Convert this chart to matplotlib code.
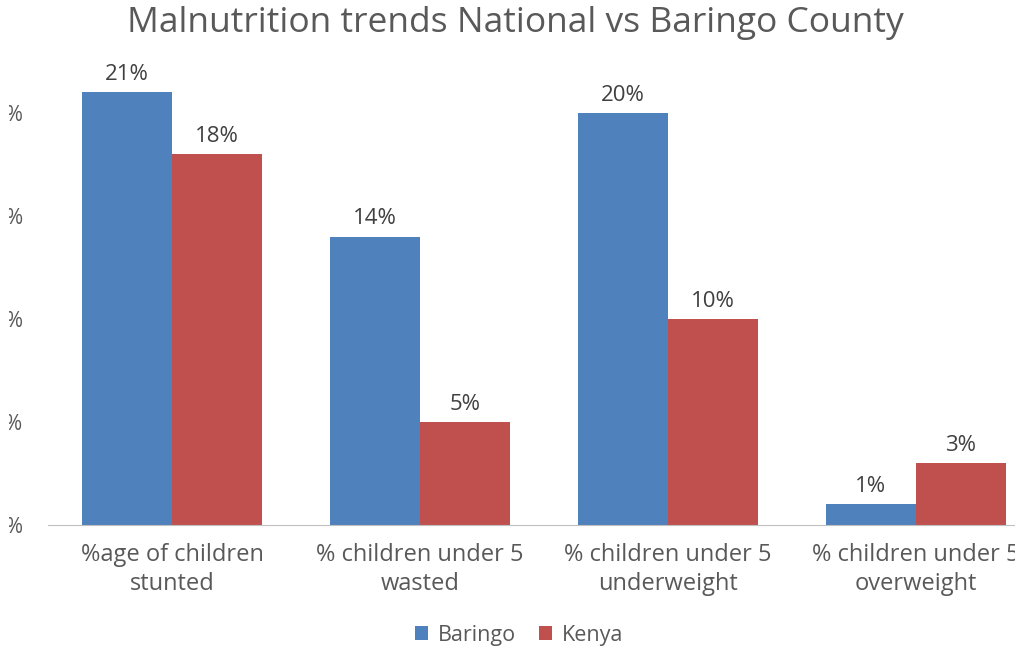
import numpy as np
import matplotlib.pyplot as plt
from matplotlib.ticker import FuncFormatter
from matplotlib.transforms import Bbox

plt.rcParams['font.family'] = ['Open Sans', 'DejaVu Sans']

categories = ['%age of children\nstunted', '% children under 5\nwasted',
              '% children under 5\nunderweight', '% children under 5\noverweight']
baringo = [21, 14, 20, 1]
kenya = [18, 5, 10, 3]

c_baringo = '#4F81BD'
c_kenya = '#C0504D'
txt = '#595959'

fig = plt.figure(figsize=(10.15, 6.52), dpi=100)
ax = fig.add_axes([48 / 1015, 127 / 652, 992 / 1015, 515 / 652])

x = np.arange(len(categories))
w = 0.363
b1 = ax.bar(x - w / 2, baringo, w, color=c_baringo, label='Baringo')
b2 = ax.bar(x + w / 2, kenya, w, color=c_kenya, label='Kenya')

# value labels above each bar
for bars, vals in ((b1, baringo), (b2, kenya)):
    for r, v in zip(bars, vals):
        ax.text(r.get_x() + r.get_width() / 2, v + 0.6, f'{v}%',
                ha='center', va='baseline', fontsize=16, color='#404040')

ax.set_xlim(-0.5, 3.5)
ax.set_ylim(0, 25)
ax.set_yticks([0, 5, 10, 15, 20])
ax.yaxis.set_major_formatter(FuncFormatter(lambda v, p: f'{v:.0f}%'))
ax.set_xticks(x)
ax.set_xticklabels(categories, fontsize=17, color=txt, linespacing=1.25)
ax.tick_params(axis='both', length=0)
ax.tick_params(axis='y', labelsize=15, labelcolor=txt, pad=18)
ax.tick_params(axis='x', pad=13)

for s in ('top', 'right', 'left'):
    ax.spines[s].set_visible(False)
ax.spines['bottom'].set_color('#BFBFBF')

fig.text(515 / 1015, 1 - 32 / 652, 'Malnutrition trends National vs Baringo County',
         ha='center', va='baseline', fontsize=25.5, color=txt)

fig.legend(handles=[b1, b2], loc='center', bbox_to_anchor=(519 / 1015, 1 - 635 / 652),
           ncol=2, frameon=False, fontsize=15.5, handlelength=0.6, handleheight=0.6,
           columnspacing=1.1, handletextpad=0.45, labelcolor=txt)

# the y labels sit partly outside the left edge; trim them there
fig.canvas.draw()
for lbl in ax.get_yticklabels():
    lbl.set_clip_box(Bbox([[9, 0], [60, 652]]))
    lbl.set_clip_on(True)

fig.savefig('out.png', dpi=100)
